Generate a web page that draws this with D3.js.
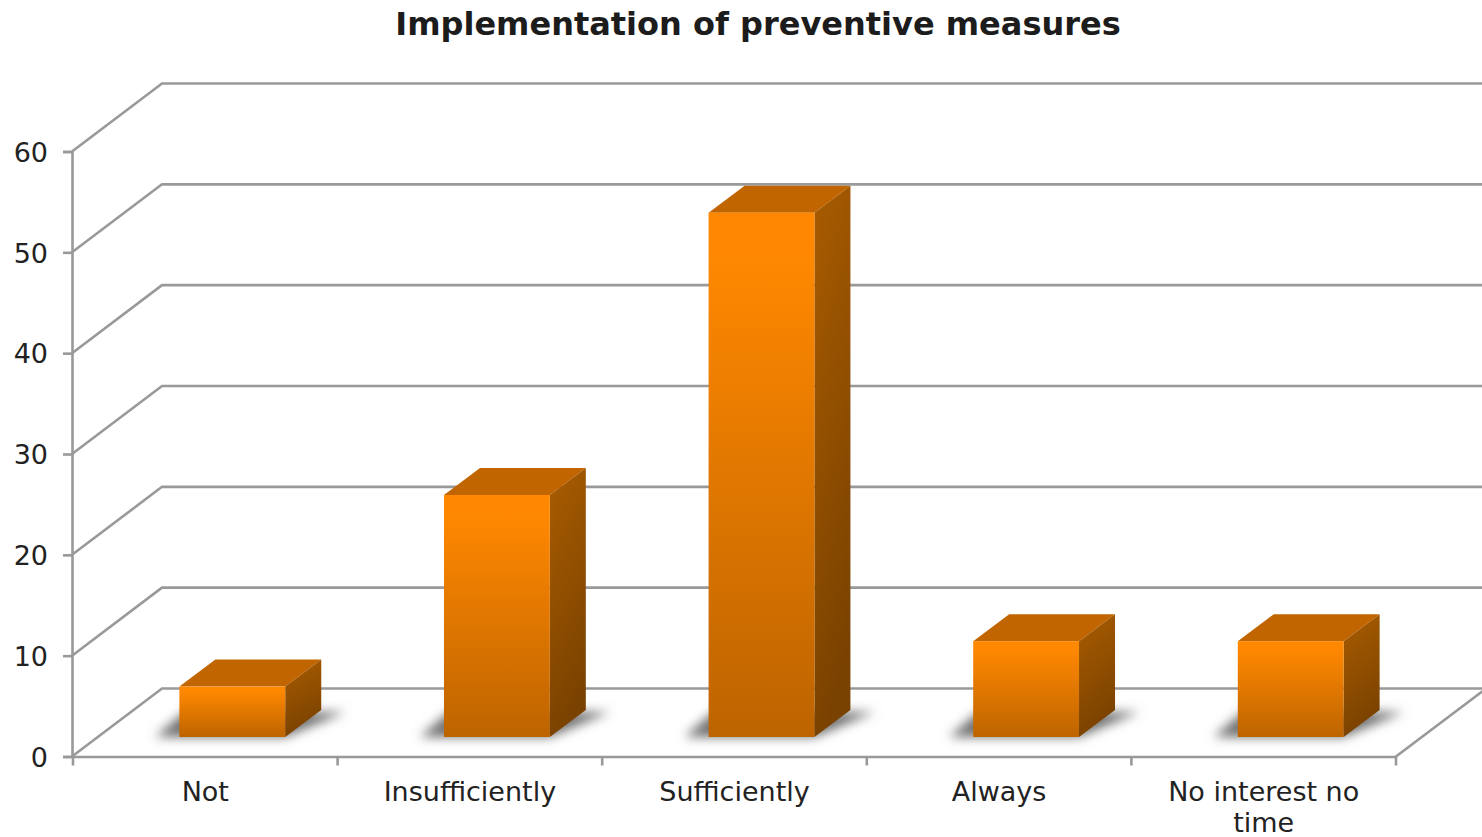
<!DOCTYPE html>
<html>
<head>
<meta charset="utf-8">
<script src="https://cdn.jsdelivr.net/npm/d3@7/dist/d3.min.js"></script>
<style>
html, body { margin: 0; padding: 0; background: #fff; overflow: hidden; }
text { font-family: "DejaVu Sans", Verdana, sans-serif; fill: #222; }
</style>
</head>
<body>
<svg id="chart" width="1482" height="837"></svg>
<script>
const chartTitle = "Implementation of preventive measures";
const categories = ["Not", "Insufficiently", "Sufficiently", "Always", "No interest no time"];
const values = [5, 24, 52, 9.5, 9.5];
const yTicks = [0, 10, 20, 30, 40, 50, 60];

const W = 1482, H = 837;
const gridColor = "#999";

// Oblique projection: the full floor depth and how far into it the boxes stand
const depth = { dx: 90, dy: -68 };
const barOffset = { dx: 27, dy: -19.5 };
const barDepth = { dx: 36, dy: -27 };

const x = d3.scaleBand().domain(categories).range([73, 1396]);
const y = d3.scaleLinear().domain([0, 60]).range([756.5, 151.5]);
const barW = x.bandwidth() * 0.4;
const barX = c => x(c) + (x.bandwidth() - barW) / 2 + barOffset.dx;
const barBase = y(0) + barOffset.dy;
const barTop = v => barBase - (y(0) - y(v));

const svg = d3.select("#chart");
const defs = svg.append("defs");

defs.append("clipPath").attr("id", "plot-clip")
  .append("rect").attr("width", W).attr("height", H);

defs.append("filter").attr("id", "soft-shadow")
  .attr("x", "-30%").attr("y", "-80%").attr("width", "160%").attr("height", "260%")
  .append("feGaussianBlur").attr("stdDeviation", 5.5);

// One gradient pair per box, so each box runs its whole colour range over its own height
function addGradient(id, x2, y2, stops) {
  const g = defs.append("linearGradient").attr("id", id)
    .attr("x1", 0).attr("y1", 0).attr("x2", x2).attr("y2", y2);
  stops.forEach(([o, c]) => g.append("stop").attr("offset", o).attr("stop-color", c));
}
addGradient("front-face", 0, 1, [[0, "#ff8800"], [0.08, "#ff8800"], [1, "#bd6400"]]);
addGradient("side-face", 0.25, 1, [[0, "#a95c00"], [1, "#7a4200"]]);

svg.append("text")
  .attr("x", 758).attr("y", 35)
  .attr("text-anchor", "middle")
  .attr("font-size", 32).attr("font-weight", "bold")
  .style("fill", "#1c1c1c")
  .text(chartTitle);

// Gridlines: each one climbs the side wall, then runs along the back wall
const wall = svg.append("g").attr("clip-path", "url(#plot-clip)")
  .attr("fill", "none").attr("stroke", gridColor).attr("stroke-width", 2.6);

wall.selectAll("path.grid").data(yTicks).join("path")
  .attr("class", "grid")
  .attr("d", t => d3.line()([
    [x.range()[0] - 1, y(t)],
    [x.range()[0] - 1 + depth.dx, y(t) + depth.dy],
    [W, y(t) + depth.dy]
  ]));

// Right-hand edge of the floor
wall.append("path").attr("d", d3.line()([
  [x.range()[1], y(0)],
  [x.range()[1] + depth.dx, y(0) + depth.dy]
]));

// Value axis
const yAxis = svg.append("g")
  .attr("transform", `translate(${x.range()[0] - 1},0)`)
  .call(d3.axisLeft(y).tickValues(yTicks).tickSize(9).tickPadding(15));
yAxis.select(".domain").attr("stroke", gridColor).attr("stroke-width", 2.6);
yAxis.selectAll(".tick line").attr("stroke", gridColor).attr("stroke-width", 2.6);
yAxis.selectAll(".tick text").attr("font-size", 27).attr("font-family", null).attr("dy", "0.36em");

// Category axis: ticks mark the band edges, labels sit at the band centres
const xAxis = svg.append("g")
  .attr("transform", `translate(0,${y(0)})`)
  .call(d3.axisBottom(x).tickSize(0).tickPadding(25));
xAxis.select(".domain").attr("stroke", gridColor).attr("stroke-width", 2.6);
xAxis.selectAll(".tick text")
  .attr("font-size", 27).attr("font-family", null)
  .each(function () {
    const label = d3.select(this);
    const words = label.text().split(" ");
    label.text(null);
    let line = [];
    let tspan = label.append("tspan").attr("x", 0);
    words.forEach(w => {
      line.push(w);
      tspan.text(line.join(" "));
      if (this.getComputedTextLength() > 215 && line.length > 1) {
        line.pop();
        tspan.text(line.join(" "));
        line = [w];
        tspan = label.append("tspan").attr("x", 0).attr("dy", 31).text(w);
      }
    });
  });

const edges = [...categories.map(c => x(c)), x.range()[1]];
svg.append("g").selectAll("line").data(edges).join("line")
  .attr("x1", d => d).attr("x2", d => d)
  .attr("y1", y(0)).attr("y2", y(0) + 9)
  .attr("stroke", gridColor).attr("stroke-width", 2.6);

const data = categories.map((c, i) => ({ c, v: values[i] }));
const bars = svg.append("g");

// Soft floor shadow falling behind and to the left of each box
bars.selectAll("path.shadow").data(data).join("path")
  .attr("class", "shadow")
  .attr("d", d => d3.line()([
    [barX(d.c) - 24, barBase],
    [barX(d.c) + barW, barBase],
    [barX(d.c) + barW + barDepth.dx + 24, barBase + barDepth.dy + 2],
    [barX(d.c) + 5, barBase + barDepth.dy + 2]
  ]) + "Z")
  .attr("fill", "#707070")
  .attr("filter", "url(#soft-shadow)");

const box = bars.selectAll("g.box").data(data).join("g").attr("class", "box");

box.append("path")
  .attr("fill", "#c16500")
  .attr("d", d => {
    const l = barX(d.c), t = barTop(d.v);
    return d3.line()([
      [l, t], [l + barW, t],
      [l + barW + barDepth.dx, t + barDepth.dy],
      [l + barDepth.dx, t + barDepth.dy]
    ]) + "Z";
  });

box.append("path")
  .attr("fill", "url(#side-face)")
  .attr("d", d => {
    const r = barX(d.c) + barW, t = barTop(d.v);
    return d3.line()([
      [r, t], [r + barDepth.dx, t + barDepth.dy],
      [r + barDepth.dx, barBase + barDepth.dy], [r, barBase]
    ]) + "Z";
  });

box.append("rect")
  .attr("fill", "url(#front-face)")
  .attr("x", d => barX(d.c))
  .attr("y", d => barTop(d.v))
  .attr("width", barW)
  .attr("height", d => barBase - barTop(d.v));
</script>
</body>
</html>
